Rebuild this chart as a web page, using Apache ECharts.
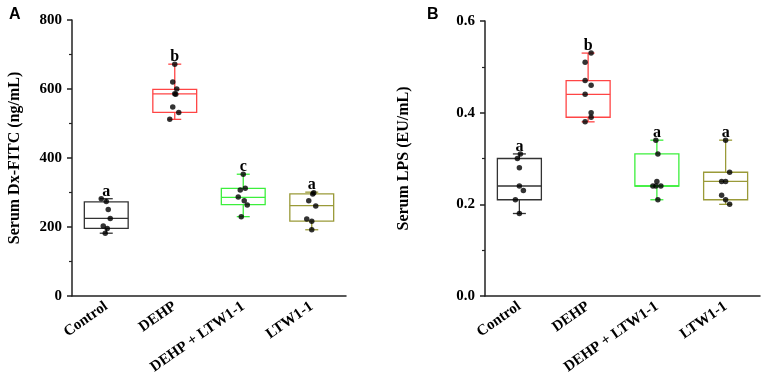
<!DOCTYPE html>
<html>
<head>
<meta charset="utf-8">
<script src="https://cdn.jsdelivr.net/npm/echarts@6/dist/echarts.min.js"></script>
<style>
  html, body { margin: 0; padding: 0; background: #fff; }
  #chart { width: 764px; height: 380px; }
</style>
</head>
<body>
<div id="chart"></div>
<script>
const groups = ['Control', 'DEHP', 'DEHP + LTW1-1', 'LTW1-1']
const colors = ['#333333', '#ff4545', '#3cef3c', '#9a9a38']

// panel A: serum Dx-FITC, box = [min, q1, median, q3, max]
const boxA = [
  [182, 196, 225, 273, 282],
  [512, 532, 586, 599, 672],
  [230, 265, 286, 312, 353],
  [192, 217, 262, 296, 301]
]
const dotsA = [
  [282, 274, 251, 225, 203, 196, 182],
  [672, 620, 600, 586, 585, 548, 532, 512],
  [353, 312, 307, 287, 276, 264, 230],
  [299, 296, 276, 261, 223, 217, 192]
]
const lettersA = ['a', 'b', 'c', 'a']

// panel B: serum LPS
const boxB = [
  [0.18, 0.21, 0.24, 0.30, 0.31],
  [0.38, 0.39, 0.44, 0.47, 0.53],
  [0.21, 0.24, 0.24, 0.31, 0.34],
  [0.20, 0.21, 0.25, 0.27, 0.34]
]
const dotsB = [
  [0.31, 0.30, 0.28, 0.24, 0.23, 0.21, 0.18],
  [0.53, 0.51, 0.47, 0.46, 0.44, 0.40, 0.39, 0.38],
  [0.34, 0.31, 0.25, 0.24, 0.24, 0.24, 0.21],
  [0.34, 0.27, 0.25, 0.25, 0.22, 0.21, 0.20]
]
const lettersB = ['a', 'b', 'a', 'a']

// horizontal jitter of the dots (px)
const jitterA = [
  [-5, 0, 2, 4, -3, 1, -1],
  [0, -2, 2, 0, 1, -2, 4, -5],
  [0, 2, -3, -5, 1, 4, -2],
  [2, 1, -3, 4, -5, 0, 0]
]
const jitterB = [
  [1, -2, 0, 0, 4, -4, 0],
  [3, -3, -3, 3, -3, 3, 3, -3],
  [-1, 1, 0, -4, 4, -1, 1],
  [0, 4, -4, 0, -4, 0, 4]
]

const serif = 'Liberation Serif'
const axisColor = '#222'

let myChart = echarts.init(document.getElementById('chart'))

function boxSeries (box, letters, idx) {
  return {
    type: 'custom',
    xAxisIndex: idx,
    yAxisIndex: idx,
    data: box.map((b, i) => [i].concat(b)),
    encode: { x: 0, y: [1, 2, 3, 4, 5] },
    renderItem (params, api) {
      let i = api.value(0)
      let c = api.coord([i, api.value(3)])[0]
      let yMin = api.coord([i, api.value(1)])[1]
      let yQ1 = api.coord([i, api.value(2)])[1]
      let yMed = api.coord([i, api.value(3)])[1]
      let yQ3 = api.coord([i, api.value(4)])[1]
      let yMax = api.coord([i, api.value(5)])[1]
      let w = api.size([1, 0])[0] * 0.64
      let cap = 13
      let line = { stroke: colors[i], lineWidth: 1.3, fill: null }
      return {
        type: 'group',
        children: [
          { type: 'rect', shape: { x: c - w / 2, y: yQ3, width: w, height: yQ1 - yQ3 }, style: line },
          { type: 'line', shape: { x1: c - w / 2, y1: yMed, x2: c + w / 2, y2: yMed }, style: line },
          { type: 'line', shape: { x1: c, y1: yQ3, x2: c, y2: yMax }, style: line },
          { type: 'line', shape: { x1: c, y1: yQ1, x2: c, y2: yMin }, style: line },
          { type: 'line', shape: { x1: c - cap / 2, y1: yMax, x2: c + cap / 2, y2: yMax }, style: line },
          { type: 'line', shape: { x1: c - cap / 2, y1: yMin, x2: c + cap / 2, y2: yMin }, style: line },
          {
            type: 'text',
            x: c,
            y: yMax + 1,
            style: {
              text: letters[i],
              fill: '#000',
              font: 'bold 16px "' + serif + '"',
              align: 'center',
              verticalAlign: 'bottom'
            }
          }
        ]
      }
    }
  }
}

function dotSeries (dots, jitter, idx) {
  let data = []
  dots.forEach((vals, i) => {
    vals.forEach((v, k) => {
      data.push({ value: [i, v], symbolOffset: [jitter[i][k], 0] })
    })
  })
  return {
    type: 'scatter',
    xAxisIndex: idx,
    yAxisIndex: idx,
    symbol: 'circle',
    symbolSize: 5.5,
    itemStyle: { color: '#000' },
    z: 5,
    data: data
  }
}

function xAxis (idx) {
  return {
    type: 'category',
    gridIndex: idx,
    data: groups,
    axisLine: { lineStyle: { color: axisColor, width: 1.5 } },
    axisTick: { alignWithLabel: true, length: 5, lineStyle: { color: axisColor, width: 1.5 } },
    axisLabel: {
      interval: 0,
      rotate: 35,
      margin: 9,
      color: '#000',
      fontFamily: serif,
      fontWeight: 'bold',
      fontSize: 15
    }
  }
}

function yAxis (idx, max, interval, name, gap, fmt) {
  return {
    type: 'value',
    gridIndex: idx,
    min: 0,
    max: max,
    interval: interval,
    name: name,
    nameLocation: 'middle',
    nameGap: gap,
    nameTextStyle: { color: '#000', fontFamily: serif, fontWeight: 'bold', fontSize: 16 },
    axisLine: { show: true, lineStyle: { color: axisColor, width: 1.5 } },
    axisTick: { show: true, length: 5, lineStyle: { color: axisColor, width: 1.5 } },
    minorTick: { show: true, splitNumber: 2, length: 3, lineStyle: { color: axisColor, width: 1.2 } },
    splitLine: { show: false },
    axisLabel: {
      margin: 10,
      color: '#000',
      fontFamily: serif,
      fontWeight: 'bold',
      fontSize: 15,
      formatter: fmt
    }
  }
}

let option = {
  animation: false,
  title: [
    { text: 'A', left: 4, top: 2, textStyle: { fontFamily: 'Liberation Sans', fontWeight: 'bold', fontSize: 16, color: '#000' } },
    { text: 'B', left: 422, top: 2, textStyle: { fontFamily: 'Liberation Sans', fontWeight: 'bold', fontSize: 16, color: '#000' } }
  ],
  grid: [
    { left: 72, top: 20, width: 274, height: 276 },
    { left: 485, top: 21, width: 275, height: 275 }
  ],
  xAxis: [xAxis(0), xAxis(1)],
  yAxis: [
    yAxis(0, 800, 200, 'Serum Dx-FITC (ng/mL)', 49, v => String(v)),
    yAxis(1, 0.6, 0.2, 'Serum LPS (EU/mL)', 73, v => v.toFixed(1))
  ],
  series: [
    boxSeries(boxA, lettersA, 0),
    dotSeries(dotsA, jitterA, 0),
    boxSeries(boxB, lettersB, 1),
    dotSeries(dotsB, jitterB, 1)
  ]
}
myChart.setOption(option, true)
</script>
</body>
</html>
